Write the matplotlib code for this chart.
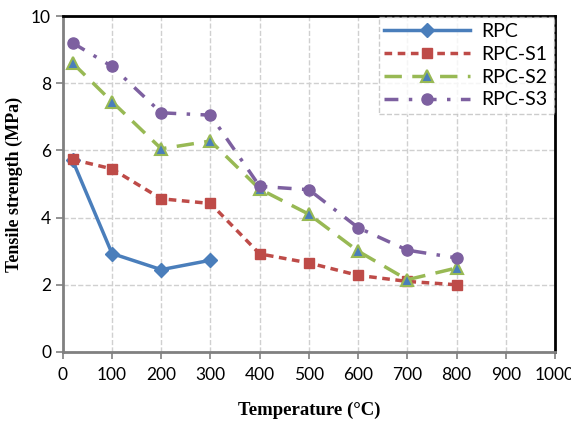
import matplotlib as mpl
mpl.use('Agg')
import matplotlib.pyplot as plt

temp = [20, 100, 200, 300, 400, 500, 600, 700, 800]
rpc_temp = [20, 100, 200, 300]
rpc = [5.7, 2.93, 2.45, 2.73]
rpc_s1 = [5.73, 5.45, 4.56, 4.42, 2.92, 2.65, 2.28, 2.1, 2.0]
rpc_s2 = [8.6, 7.45, 6.05, 6.28, 4.85, 4.1, 3.0, 2.15, 2.5]
rpc_s3 = [9.2, 8.5, 7.12, 7.05, 4.93, 4.83, 3.7, 3.03, 2.8]

fig = plt.figure(figsize=(5.71, 4.23), dpi=100)
ax = fig.add_axes([0.110, 0.168, 0.862, 0.794])

ax.plot(rpc_temp, rpc, color='#4a7ebb', lw=2.5, marker='D', ms=7,
        mfc='#4a7ebb', mec='#4a7ebb', label='RPC')
ax.plot(temp, rpc_s1, color='#be4b48', lw=2.5, ls=(0, (2.2, 1.6)), marker='s', ms=7,
        mfc='#be4b48', mec='#be4b48', label='RPC-S1')
ax.plot(temp, rpc_s2, color='#98b954', lw=2.5, ls=(0, (5, 3)), marker='^', ms=8,
        mfc='#4a7ebb', mec='#98b954', mew=1.5, label='RPC-S2')
ax.plot(temp, rpc_s3, color='#7d60a0', lw=2.5, ls=(0, (4, 3, 1, 3)), marker='o', ms=8,
        mfc='#7d60a0', mec='#7d60a0', label='RPC-S3')

ax.set_xlim(0, 1000)
ax.set_ylim(0, 10)
ax.set_xticks(range(0, 1001, 100))
ax.set_yticks(range(0, 11, 2))
ax.grid(True, ls='--', color='#d0d0d0', lw=1)
ax.set_axisbelow(True)

for s in ['left', 'bottom']:
    ax.spines[s].set_color('#808080')
    ax.spines[s].set_linewidth(2)
for s in ['top', 'right']:
    ax.spines[s].set_color('black')
    ax.spines[s].set_linewidth(2)
ax.tick_params(axis='both', direction='out', length=5, width=1.2, color='#808080',
               labelsize=12.5)
for lab in ax.get_xticklabels() + ax.get_yticklabels():
    lab.set_fontfamily('Lato')
ax.tick_params(axis='x', pad=6)

ax.set_xlabel('Temperature (°C)', fontfamily='Liberation Serif', fontweight='bold',
              fontsize=13.5)
ax.set_ylabel('Tensile strength (MPa)', fontfamily='Liberation Serif', fontweight='bold',
              fontsize=13)
ax.xaxis.set_label_coords(0.5, -0.148)
ax.yaxis.set_label_coords(-0.08, 0.5)

leg = ax.legend(loc='upper right', bbox_to_anchor=(0.997, 0.997),
                prop={'family': 'Lato', 'size': 14}, frameon=True,
                fancybox=False, handlelength=4.4, borderaxespad=0.0, labelspacing=0.3,
                borderpad=0.3, handletextpad=0.6)
leg.get_frame().set_edgecolor('#c0c0c0')
leg.get_frame().set_linestyle('--')
leg.get_frame().set_linewidth(1)

plt.savefig('out.png', dpi=100)
